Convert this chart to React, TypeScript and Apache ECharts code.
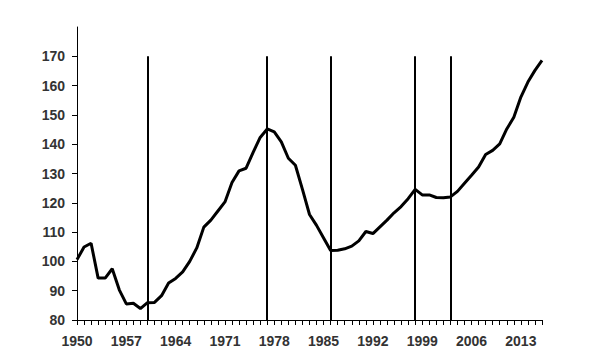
import React, { useEffect, useRef } from "react";
import * as echarts from "echarts";

const years: string[] = [];
for (let y = 1950; y <= 2016; y++) years.push(String(y));

const values: number[] = [
  100.6, 104.9, 106.2, 94.3, 94.3, 97.5, 90.3, 85.5, 85.7, 83.9,
  85.9, 86.0, 88.3, 92.6, 94.2, 96.4, 100.0, 104.6, 111.7, 114.1,
  117.2, 120.3, 126.9, 130.9, 131.8, 137.2, 142.3, 145.2, 144.2, 140.8,
  135.2, 132.8, 124.6, 116.0, 112.3, 108.0, 103.7, 103.8, 104.3, 105.2,
  107.0, 110.2, 109.5, 111.8, 114.1, 116.6, 118.7, 121.4, 124.6, 122.7,
  122.7, 121.8, 121.7, 122.0, 123.9, 126.7, 129.4, 132.2, 136.5, 137.9,
  140.1, 145.2, 149.2, 156.1, 161.2, 165.2, 168.6,
];

const markerYears: string[] = ["1960", "1977", "1986", "1998", "2003"];
const yTicks: number[] = [80, 90, 100, 110, 120, 130, 140, 150, 160, 170];

export default function App() {
  const ref = useRef<HTMLDivElement>(null);
  useEffect(() => {
    if (!ref.current) return;
    const chart = echarts.init(ref.current, null, { renderer: "svg" });
    const labelStyle = {
      color: "#333",
      fontFamily: "Liberation Sans, Arial, sans-serif",
      fontWeight: "bold" as const,
      fontSize: 14,
    };
    chart.setOption({
      animation: false,
      backgroundColor: "#fff",
      grid: { left: 77, right: 58, top: 27, bottom: 40, containLabel: false },
      xAxis: {
        type: "category",
        data: years,
        boundaryGap: false,
        axisLine: { show: true, lineStyle: { color: "#000", width: 1 } },
        axisTick: { show: true, interval: 0, length: 5, lineStyle: { color: "#000" } },
        axisLabel: { ...labelStyle, interval: 6, margin: 14 },
        splitLine: { show: false },
      },
      yAxis: {
        type: "value",
        min: 80,
        max: 180,
        interval: 10,
        axisLine: { show: true, lineStyle: { color: "#000", width: 1 } },
        axisTick: { show: true, length: 5, customValues: yTicks, lineStyle: { color: "#000" } },
        axisLabel: { ...labelStyle, margin: 12, customValues: yTicks },
        splitLine: { show: false },
      },
      series: [
        {
          type: "line",
          data: values,
          symbol: "none",
          lineStyle: { color: "#000", width: 3 },
          z: 3,
          markLine: {
            silent: true,
            symbol: ["none", "none"],
            label: { show: false },
            lineStyle: { color: "#000", width: 2, type: "solid" },
            data: markerYears.map((y) => [
              { coord: [y, 80] },
              { coord: [y, 170] },
            ]),
          },
        },
      ],
    });
    return () => chart.dispose();
  }, []);
  return (
    <div
      ref={ref}
      style={{ position: "fixed", left: 0, top: 0, width: 600, height: 360, background: "#fff" }}
    />
  );
}
